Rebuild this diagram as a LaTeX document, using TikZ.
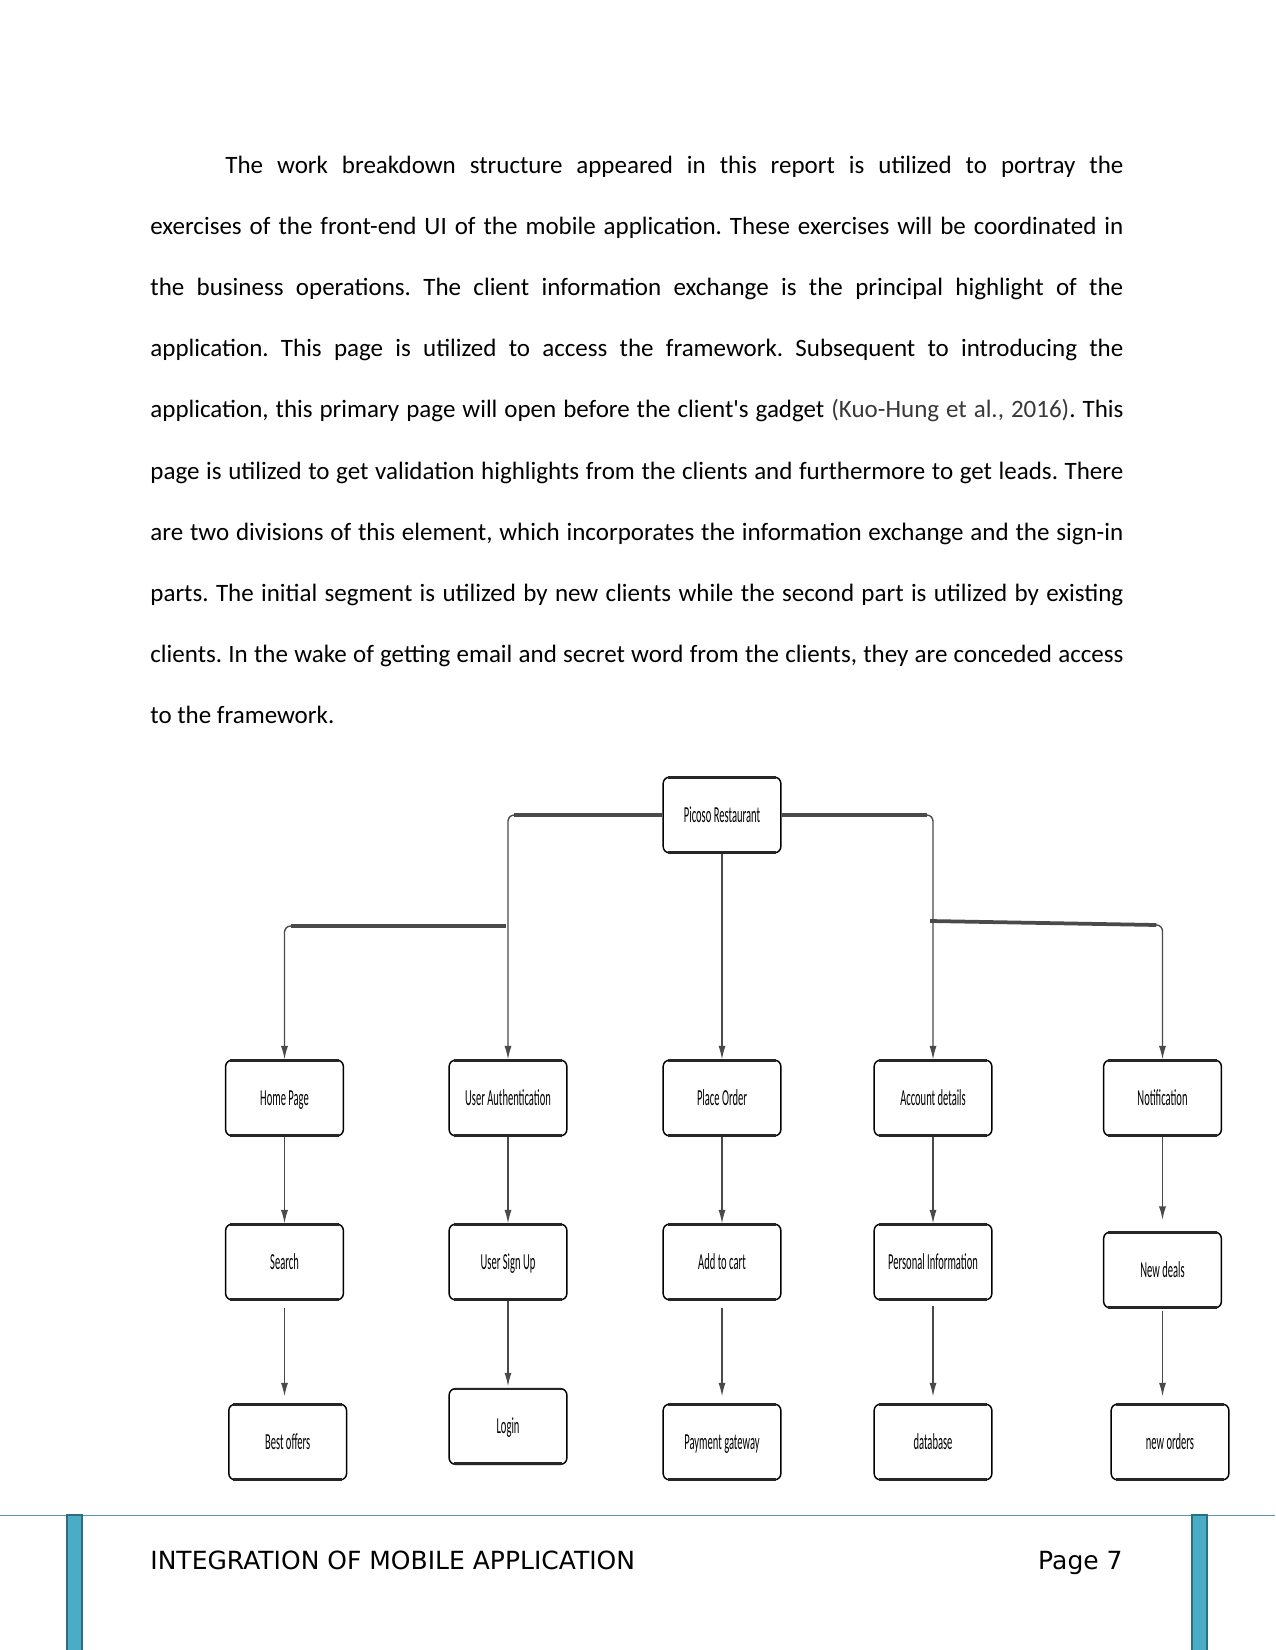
\documentclass[tikz,border=0pt]{standalone}
\usepackage{fontspec}
\setmainfont{Carlito}[Ligatures=TeXOff]
\newfontfamily\dejavu{DejaVu Sans}
\usepackage{graphicx}
\usetikzlibrary{arrows.meta}
\definecolor{barfill}{HTML}{4BACC6}
\definecolor{barline}{HTML}{2E6E82}
\definecolor{rulecol}{HTML}{5A96AE}
\definecolor{conn}{HTML}{4A4A4A}
\definecolor{citegray}{HTML}{383838}
\newcommand\boxlabel[1]{\scalebox{0.46}[1]{\fontsize{11}{12}\selectfont #1}}
\frenchspacing
\begin{document}
\begin{tikzpicture}[x=0.48pt,y=-0.48pt,
  wbs/.style={draw=black, line width=0.7pt, rounded corners=3pt, fill=white,
    minimum width=56.5pt, minimum height=36.3pt, inner sep=0pt, align=center,
    text height=7pt, text depth=0pt},
  para/.style={anchor=base west, inner sep=0pt, font=\fontsize{12}{14}\selectfont},
  hseg/.style={draw=conn, line width=1.8pt},
  vseg/.style={draw=conn, line width=0.65pt},
  arr/.style={vseg, -{Latex[length=6.5pt,width=3.4pt]}, color=conn},
  foot/.style={inner sep=0pt, font=\dejavu\fontsize{12}{14}\selectfont}]
\useasboundingbox (0,0) rectangle (1275,1650);
\fill[white] (0,0) rectangle (1275,1650);

% paragraph
\node[para] (l1) at (225,174) {\makebox[431.04pt][s]{The work breakdown structure appeared in this report is utilized to portray the}};
\node[para] (l2) at (150,235) {\makebox[467.04pt][s]{exercises of the front-end UI of the mobile application. These exercises will be coordinated in}};
\node[para] (l3) at (150,296) {\makebox[467.04pt][s]{the business operations. The client information exchange is the principal highlight of the}};
\node[para] (l4) at (150,357) {\makebox[467.04pt][s]{application. This page is utilized to access the framework. Subsequent to introducing the}};
\node[para] (l5) at (150,418) {\makebox[467.04pt][s]{application, this primary page will open before the client's gadget \textcolor{citegray}{(Kuo-Hung et al., 2016)}. This}};
\node[para] (l6) at (150,479) {\makebox[467.04pt][s]{page is utilized to get validation highlights from the clients and furthermore to get leads. There}};
\node[para] (l7) at (150,540) {\makebox[467.04pt][s]{are two divisions of this element, which incorporates the information exchange and the sign-in}};
\node[para] (l8) at (150,601) {\makebox[467.04pt][s]{parts. The initial segment is utilized by new clients while the second part is utilized by existing}};
\node[para] (l9) at (150,662) {\makebox[467.04pt][s]{clients. In the wake of getting email and secret word from the clients, they are conceded access}};
\node[para] (l10) at (150,723) {to the framework.};

% boxes
\node[wbs] (pr) at (722,815) {\boxlabel{Picoso Restaurant}};
\node[wbs] (hp) at (284.5,1098) {\boxlabel{Home Page}};
\node[wbs] (ua) at (508,1098) {\boxlabel{User Authentication}};
\node[wbs] (po) at (722,1098) {\boxlabel{Place Order}};
\node[wbs] (ad) at (933,1098) {\boxlabel{Account details}};
\node[wbs] (nt) at (1162.5,1098) {\boxlabel{Notification}};
\node[wbs] (se) at (284.5,1262) {\boxlabel{Search}};
\node[wbs] (us) at (508,1262) {\boxlabel{User Sign Up}};
\node[wbs] (ac) at (722,1262) {\boxlabel{Add to cart}};
\node[wbs] (pi) at (933,1262) {\boxlabel{Personal Information}};
\node[wbs] (nd) at (1162.5,1270) {\boxlabel{New deals}};
\node[wbs] (bo) at (287.7,1442) {\boxlabel{Best offers}};
\node[wbs] (lg) at (508,1426.5) {\boxlabel{Login}};
\node[wbs] (pg) at (722,1442) {\boxlabel{Payment gateway}};
\node[wbs] (db) at (933,1442) {\boxlabel{database}};
\node[wbs] (no) at (1170,1442) {\boxlabel{new orders}};

\foreach \n in {pr,hp,ua,po,ad,nt,se,us,ac,pi,nd,bo,lg,pg,db,no}{
  \draw[line width=1.3pt, black!85] ([xshift=2.5pt,yshift=-0.5pt]\n.north west) -- ([xshift=-2.5pt,yshift=-0.5pt]\n.north east);
  \draw[line width=1.6pt, black!85] ([xshift=2.5pt,yshift=0.6pt]\n.south west) -- ([xshift=-2.5pt,yshift=0.6pt]\n.south east);
}

% top level connectors
\coordinate (ja) at (ua.north |- pr.west);
\draw[arr, rounded corners=3pt] (pr.west) -- (ja) -- (ua.north);
\draw[hseg] (pr.west) -- ([xshift=3pt]ja);
\coordinate (jd) at (ad.north |- pr.east);
\draw[arr, rounded corners=3pt] (pr.east) -- (jd) -- (ad.north);
\draw[hseg] (pr.east) -- ([xshift=-3pt]jd);
\draw[arr] (pr.south) -- (po.north);

\coordinate (hs) at (506,926);
\coordinate (jh) at (hp.north |- hs);
\draw[arr, rounded corners=3pt] (hs) -- (jh) -- (hp.north);
\draw[hseg] (hs) -- ([xshift=3pt]jh);

\coordinate (ns) at (930,921);
\coordinate (ny) at (0,925);
\coordinate (jn) at (nt.north |- ny);
\draw[arr, rounded corners=3pt] (ns) -- (jn) -- (nt.north);
\draw[hseg] (ns) -- ([xshift=-3pt]jn);

% row 1 -> row 2
\draw[arr] (hp.south) -- (se.north);
\draw[arr] (ua.south) -- (us.north);
\draw[arr] (po.south) -- (ac.north);
\draw[arr] (ad.south) -- (pi.north);
\draw[arr, shorten >=5.5pt] (nt.south) -- (nd.north);

% row 2 -> row 3
\draw[arr, shorten <=3.8pt, shorten >=3.4pt] (se.south) -- (se.south |- bo.north);
\draw[arr, shorten >=0.8pt] (us.south) -- (lg.north);
\draw[arr, shorten <=3.4pt, shorten >=3.4pt] (ac.south) -- (pg.north);
\draw[arr, shorten <=2.5pt, shorten >=3.4pt] (pi.south) -- (db.north);
\draw[arr, shorten <=1pt, shorten >=3.4pt] (nd.south) -- (nd.south |- no.north);

% footer
\draw[rulecol, line width=0.8pt] (0,1515.5) -- (1275,1515.5);
\filldraw[fill=barfill, draw=barline, line width=0.6pt] (67,1515) rectangle (82,1652);
\filldraw[fill=barfill, draw=barline, line width=0.6pt] (1192,1515) rectangle (1207,1652);
\node[foot, anchor=base west] (ft) at (150,1569) {INTEGRATION OF MOBILE APPLICATION};
\node[foot, anchor=base east] (pg7) at (1123,1569) {Page 7};
\end{tikzpicture}
\end{document}
